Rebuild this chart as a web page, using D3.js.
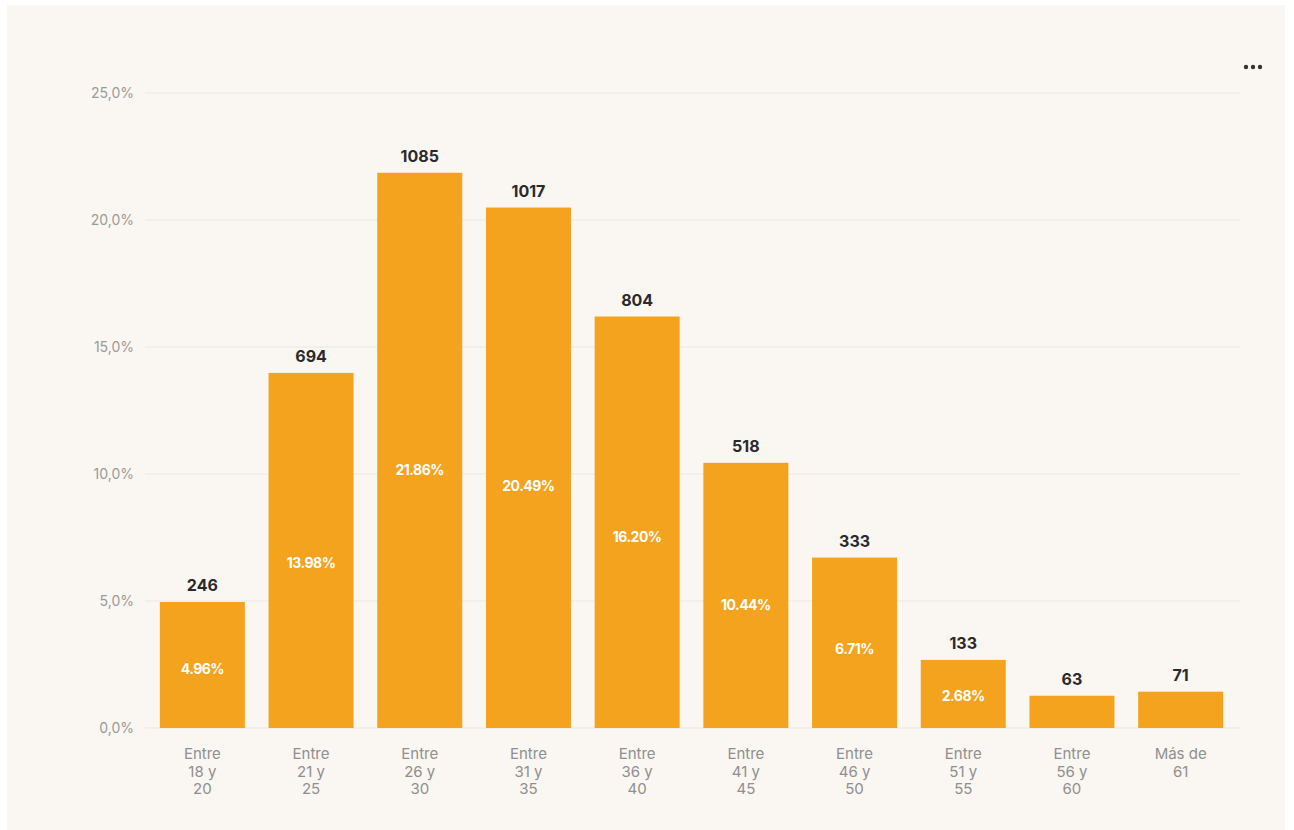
<!DOCTYPE html>
<html>
<head>
<meta charset="utf-8">
<script src="https://cdn.jsdelivr.net/npm/d3@7"></script>
<style>
  body { margin: 0; background: #fff; font-family: Inter, "Open Sans", sans-serif; }
  svg { display: block; }
</style>
</head>
<body>
<svg id="chart" width="1294" height="830"></svg>
<script>
// age groups, each label split into lines
const categories = [
  ["Entre", "18 y", "20"],
  ["Entre", "21 y", "25"],
  ["Entre", "26 y", "30"],
  ["Entre", "31 y", "35"],
  ["Entre", "36 y", "40"],
  ["Entre", "41 y", "45"],
  ["Entre", "46 y", "50"],
  ["Entre", "51 y", "55"],
  ["Entre", "56 y", "60"],
  ["Más de", "61"]
];
const counts = [246, 694, 1085, 1017, 804, 518, 333, 133, 63, 71];
const percents = [4.96, 13.98, 21.86, 20.49, 16.20, 10.44, 6.71, 2.68, 1.27, 1.43];
const yTicks = [0, 5, 10, 15, 20, 25];

const svg = d3.select("#chart");

// panel background
svg.append("rect")
  .attr("x", 7).attr("y", 5)
  .attr("width", 1278).attr("height", 825)
  .attr("fill", "#faf6f2");

const x = d3.scaleBand()
  .domain(d3.range(categories.length))
  .range([148, 1235])
  .paddingInner(0.218)
  .paddingOuter(0.109);

const y = d3.scaleLinear()
  .domain([0, 25])
  .range([728, 93]);

// gridlines
svg.append("g")
  .selectAll("line")
  .data(yTicks)
  .enter().append("line")
  .attr("x1", 145)
  .attr("x2", 1240)
  .attr("y1", d => y(d))
  .attr("y2", d => y(d))
  .attr("stroke", "#ebe7e3")
  .attr("stroke-width", 1);

// y axis labels
const yAxis = d3.axisLeft(y)
  .tickValues(yTicks)
  .tickSize(0)
  .tickPadding(0)
  .tickFormat(d => d3.format(".1f")(d).replace(".", ",") + "%");

svg.append("g")
  .attr("transform", "translate(134,0)")
  .call(yAxis)
  .call(g => g.select(".domain").remove())
  .selectAll("text")
  .attr("fill", "#9a9a9a")
  .style("font-family", "Inter, sans-serif")
  .style("font-size", "14px");

// bars
svg.append("g")
  .selectAll("rect")
  .data(percents)
  .enter().append("rect")
  .attr("x", (d, i) => x(i))
  .attr("y", d => y(d))
  .attr("width", x.bandwidth())
  .attr("height", d => y(0) - y(d))
  .attr("fill", "#f4a31f");

// count labels above bars
svg.append("g")
  .selectAll("text")
  .data(counts)
  .enter().append("text")
  .attr("x", (d, i) => x(i) + x.bandwidth() / 2)
  .attr("y", (d, i) => y(percents[i]) - 11)
  .attr("text-anchor", "middle")
  .attr("fill", "#2a2a2e")
  .style("font-family", "Inter, sans-serif")
  .style("font-weight", "700")
  .style("font-size", "16px")
  .text(d => d);

// percent labels inside bars (skipped where the bar is too short)
svg.append("g")
  .selectAll("text")
  .data(percents.map((d, i) => ({ v: d, i })).filter(d => d.v > 2))
  .enter().append("text")
  .attr("x", d => x(d.i) + x.bandwidth() / 2)
  .attr("y", d => y(d.v * 0.465))
  .attr("dy", "0.35em")
  .attr("text-anchor", "middle")
  .attr("fill", "#ffffff")
  .style("font-family", "Inter, sans-serif")
  .style("font-weight", "700")
  .style("font-size", "14px")
  .style("letter-spacing", "-0.5px")
  .text(d => d3.format(".2f")(d.v) + "%");

// x axis category labels
const xLabels = svg.append("g")
  .selectAll("text")
  .data(categories)
  .enter().append("text")
  .attr("x", (d, i) => x(i) + x.bandwidth() / 2)
  .attr("y", 759)
  .attr("text-anchor", "middle")
  .attr("fill", "#8f8f8f")
  .style("font-family", "Inter, sans-serif")
  .style("font-size", "15px");

xLabels.selectAll("tspan")
  .data(d => d)
  .enter().append("tspan")
  .attr("x", function () { return d3.select(this.parentNode).attr("x"); })
  .attr("dy", (d, j) => j === 0 ? 0 : 17.5)
  .text(d => d);

// menu dots
svg.append("g")
  .selectAll("circle")
  .data([0, 1, 2])
  .enter().append("circle")
  .attr("cx", d => 1246 + d * 7)
  .attr("cy", 67)
  .attr("r", 2.2)
  .attr("fill", "#333");
</script>
</body>
</html>
